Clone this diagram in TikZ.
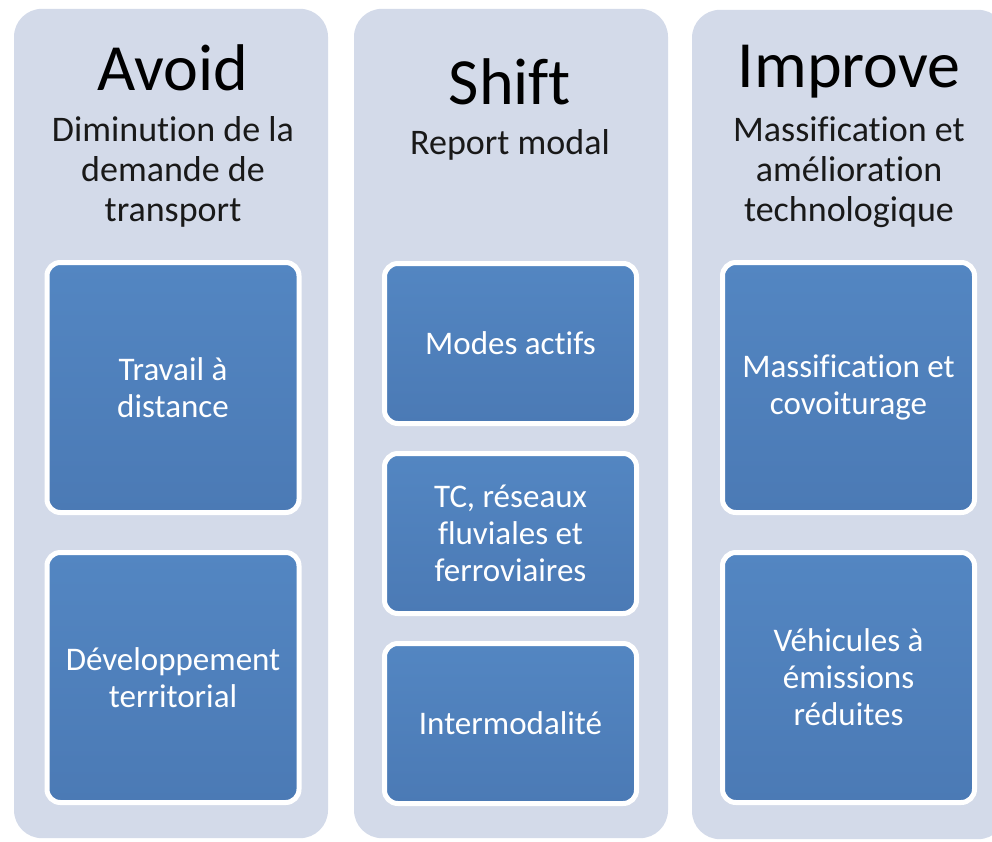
\documentclass[tikz,border=0pt]{standalone}
\usepackage{fontspec}
\setmainfont{Carlito}[Ligatures=CommonOff]
\usepackage{tikz}
\usetikzlibrary{positioning}
\definecolor{panelgray}{RGB}{211,218,233}
\definecolor{boxtop}{RGB}{83,134,194}
\definecolor{boxbottom}{RGB}{75,122,181}

\begin{document}
\begin{tikzpicture}[
    x=0.75pt, y=-0.75pt,
    node distance=30pt,
    panel/.style={rectangle, fill=panelgray, rounded corners=21pt, minimum width=235.5pt, minimum height=622pt, inner sep=0pt},
    title/.style={font=\fontsize{49.5}{54}\selectfont, text=black, anchor=base},
    subtitle/.style={font=\fontsize{27}{30}\selectfont, align=center, text=black!90},
    box/.style={rectangle, rounded corners=10pt, draw=white, line width=3.75pt, top color=boxtop, bottom color=boxbottom, text=white, align=center, font=\fontsize{24.75}{27.75}\selectfont, minimum width=189pt, inner sep=0pt, outer sep=0pt},
    tallbox/.style={box, minimum height=187.5pt},
    shortbox/.style={box, minimum height=120pt}
]
\clip (0,0) rectangle (992,842);

% columns
\node[panel] (avoidcol) at (171,423.5) {};
\node[panel] (shiftcol) at (511,423.5) {};
\node[panel] (improvecol) at (849,424.5) {};

% headers
\node[title] (avoid) at (173,90) {Avoid};
\node[subtitle] (avoidsub) at (173,172) {Diminution de la\\demande de\\transport};
\node[title] (shift) at (510,104) {Shift};
\node[subtitle] (shiftsub) at (510,145) {Report modal};
\node[title] (improve) at (849,88) {Improve};
\node[subtitle] (improvesub) at (849,172) {Massification et\\amélioration\\technologique};

% boxes
\node[tallbox] (travail) at (173,387.5) {Travail à\\distance};
\node[tallbox, below=of travail] (developpement) {Développement\\territorial};

\node[shortbox] (modes) at (510.5,343.5) {Modes actifs};
\node[shortbox, below=22.5pt of modes] (tc) {TC, réseaux\\fluviales et\\ferroviaires};
\node[shortbox, below=22.5pt of tc] (intermodal) {Intermodalité};

\node[tallbox] (massif) at (848.5,387.5) {Massification et\\covoiturage};
\node[tallbox, below=of massif] (vehicules) {Véhicules à\\émissions\\réduites};
\end{tikzpicture}
\end{document}
